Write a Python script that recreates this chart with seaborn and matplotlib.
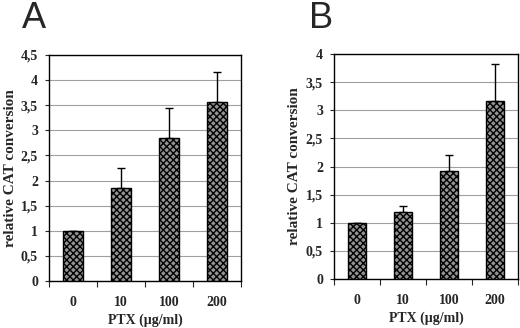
import matplotlib
matplotlib.use("Agg")
import matplotlib.pyplot as plt
import seaborn as sns
import pandas as pd

doses = ["0", "10", "100", "200"]
conv_a = [1.0, 1.85, 2.85, 3.57]
err_a = [0.0, 0.40, 0.60, 0.60]
conv_b = [1.0, 1.20, 1.92, 3.17]
err_b = [0.0, 0.10, 0.28, 0.65]

sns.set_style("white")
plt.rcParams["font.family"] = ["Liberation Serif", "DejaVu Serif"]

fig = plt.figure(figsize=(5.2, 3.28), dpi=100)
ax_a = fig.add_axes([49 / 520, 1 - 281 / 328, 192 / 520, 226 / 328])
ax_b = fig.add_axes([334 / 520, 1 - 279 / 328, 184 / 520, 225 / 328])


def draw_panel(ax, vals, errs, ymax, ticks, ylab_x):
    df = pd.DataFrame({"dose": doses, "conv": vals})
    sns.barplot(data=df, x="dose", y="conv", ax=ax, color="#8c8c8c",
                width=0.4, edgecolor="black", linewidth=1.0, errorbar=None,
                zorder=3)
    for p in ax.patches:
        p.set_hatch("xxxxx")
        p.set_facecolor("#939393")
    ax.errorbar(range(len(vals)), vals, yerr=[[0] * len(errs), errs],
                fmt="none", ecolor="black", elinewidth=1.0, capsize=3,
                capthick=1.0, zorder=2)
    ax.set_ylim(0, ymax)
    ax.set_xlim(-0.5, 3.5)
    ax.set_yticks(ticks)
    ax.set_yticklabels([("%g" % t).replace(".", ",") for t in ticks],
                       fontweight="bold", fontsize=10)
    ax.set_xticks([-0.5, 0.5, 1.5, 2.5, 3.5], minor=False)
    ax.set_xticklabels([])
    ax.set_xticks(range(4), minor=True)
    ax.set_xticklabels(doses, minor=True, fontweight="bold", fontsize=10)
    ax.tick_params(axis="x", which="major", length=4, direction="out",
                   bottom=True, width=0.8)
    ax.tick_params(axis="x", which="minor", length=0, pad=11)
    ax.tick_params(axis="y", length=3, direction="out", left=True, width=0.8,
                   pad=5)
    ax.yaxis.grid(True, color="#a0a0a0", linewidth=0.8, zorder=0)
    ax.set_axisbelow(True)
    for s in ax.spines.values():
        s.set_color("black")
        s.set_linewidth(1.0)
    ax.set_xlabel("PTX (µg/ml)", fontweight="bold", fontsize=10, labelpad=3)
    ax.set_ylabel("relative CAT conversion", fontweight="bold", fontsize=11,
                  va="center")
    ax.yaxis.set_label_coords(ylab_x, 0.5)


draw_panel(ax_a, conv_a, err_a, 4.5, [0, 0.5, 1, 1.5, 2, 2.5, 3, 3.5, 4, 4.5], -0.203)
draw_panel(ax_b, conv_b, err_b, 4.0, [0, 0.5, 1, 1.5, 2, 2.5, 3, 3.5, 4], -0.212)

for letter, xpos in [("A", 22), ("B", 309)]:
    fig.text(xpos / 520, 1 - 28 / 328, letter, fontsize=26,
             family=["Liberation Sans", "DejaVu Sans"], va="baseline")

fig.savefig("out.png", dpi=100)
